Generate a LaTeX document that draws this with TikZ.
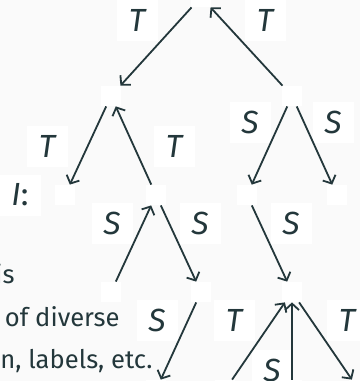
\documentclass[tikz,border=0pt]{standalone}
\usepackage{fontspec}
\setmainfont{Fira Sans}
\setsansfont{Fira Sans}
\definecolor{ink}{HTML}{23373B}
\definecolor{slide}{HTML}{FAFAFA}
\usetikzlibrary{arrows.meta}
\tikzset{
  >={Straight Barb[length=3.2pt,width=7pt]},
  vert/.style={fill=white,inner sep=0pt,minimum size=10pt},
  lab/.style={fill=white,inner sep=0pt,minimum size=20.5pt,font=\fontsize{16}{19}\selectfont\itshape,text=ink},
  txt/.style={font=\fontsize{12.8}{15}\selectfont,text=ink,inner sep=0pt},
  arr/.style={->,draw=ink,line width=0.9pt},
}
\begin{document}
\begin{tikzpicture}[x=0.5pt,y=-0.5pt]
\useasboundingbox (0,0) rectangle (360,381);
\clip (0,0) rectangle (360,381);
\fill[slide] (0,0) rectangle (360,381);
% slide text behind the tree
\node[txt,anchor=base east] (l1) at (15,283) {is};
\node[txt,anchor=base east] (l2) at (120,326) {of diverse};
\node[txt,anchor=base east] (l3) at (153,368) {n, labels, etc.};
\node[lab,font=\fontsize{16}{19}\selectfont] (li) at (20,195) {\textit{I}:};
% vertices
\node[vert] (r) at (201,-3) {};
\node[vert] (a) at (111,96) {};
\node[vert] (b) at (292,96) {};
\node[vert] (aa) at (65,195) {};
\node[vert] (ab) at (156,195) {};
\node[vert] (ba) at (247,195) {};
\node[vert] (bb) at (337,195) {};
\node[vert] (aba) at (111,292) {};
\node[vert] (abb) at (201,292) {};
\node[vert] (baa) at (292,292) {};
\node[vert] (abba) at (156,390) {};
\node[vert] (baaa) at (225,390) {};
\node[vert] (baab) at (292,390) {};
\node[vert] (baac) at (359,390) {};
% edge labels
\node[lab] (lr1) at (137,20) {T};
\node[lab] (lr2) at (265,20) {T};
\node[lab] (la1) at (47,146) {T};
\node[lab] (la2) at (174,146) {T};
\node[lab] (lb1) at (250,122) {S};
\node[lab] (lb2) at (333,122) {S};
\node[lab] (lab1) at (112,223) {S};
\node[lab] (lab2) at (200,223) {S};
\node[lab] (lba) at (291,223) {S};
\node[lab] (labb) at (157,320) {S};
\node[lab] (lbaa1) at (234,320) {T};
\node[lab] (lbaa3) at (347,320) {T};
\node[lab] (lbaa2) at (272,370) {S};
% edges
\draw[arr] (r)--(a); \draw[arr] (b)--(r);
\draw[arr] (a)--(aa); \draw[arr] (ab)--(a);
\draw[arr] (b)--(ba); \draw[arr] (b)--(bb);
\draw[arr] (aba)--(ab); \draw[arr] (ab)--(abb);
\draw[arr] (ba)--(baa); \draw[arr] (abb)--(abba);
\draw[arr] (baaa)--(baa); \draw[arr] (baab)--(baa);
\draw[arr] (baa)--(baac);
\end{tikzpicture}
\end{document}
